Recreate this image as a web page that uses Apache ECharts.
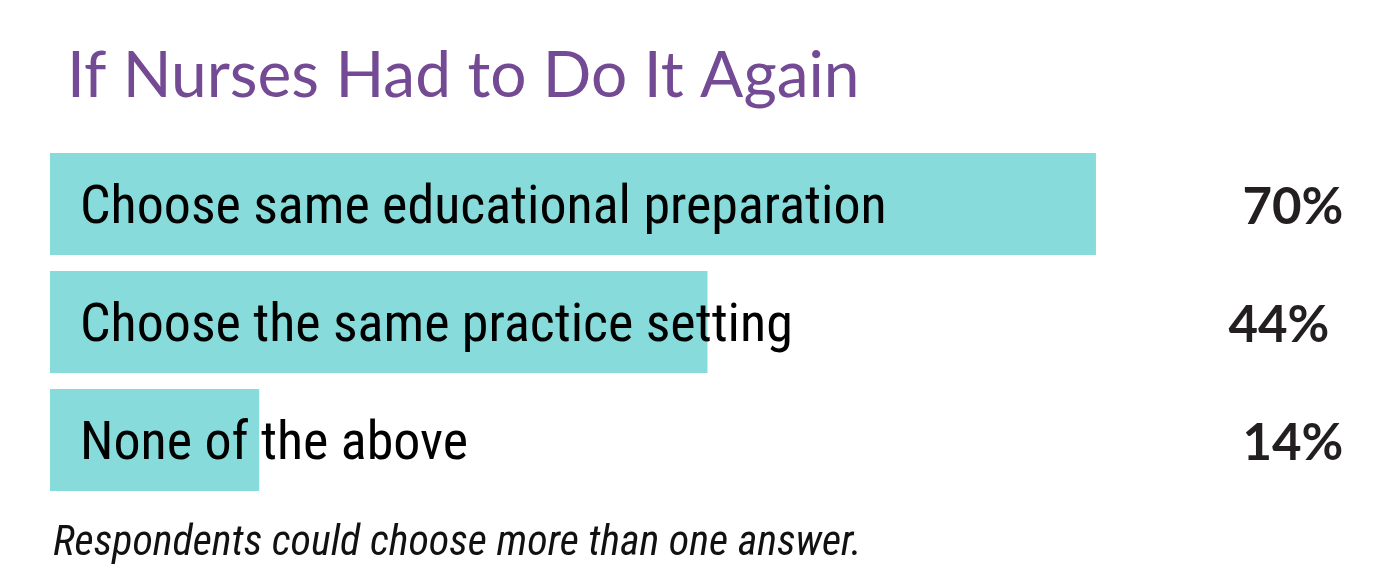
<!DOCTYPE html>
<html><head><meta charset="utf-8">
<script src="https://cdn.jsdelivr.net/npm/echarts@6/dist/echarts.min.js"></script>
<style>html,body{margin:0;padding:0;background:#fff}#c{width:1380px;height:585px}</style>
</head><body><div id="c"></div>
<script>
const categories = ["Choose same educational preparation", "Choose the same practice setting", "None of the above"];
const values = [70, 44, 14];
const valueLabels = ["70%", "44%", "14%"];
const titleText = "If Nurses Had to Do It Again";
const footnote = "Respondents could choose more than one answer.";

const narrow = '"Roboto Condensed", "DejaVu Sans Condensed", sans-serif';
const chart = echarts.init(document.getElementById('c'));
chart.setOption({
  animation: false,
  title: [{
    text: titleText, left: 62, top: 39,
    textStyle: {fontFamily: 'Lato', fontWeight: 'normal', fontSize: 64, color: '#734a93'}
  }, {
    text: footnote, left: 48, top: 518,
    textStyle: {fontFamily: narrow, fontStyle: 'italic', fontWeight: 'normal', fontSize: 42, color: '#111'}
  }],
  grid: {left: 50, right: 134.6, top: 145, bottom: 86},
  xAxis: {type: 'value', min: 0, max: 80, show: false},
  yAxis: [{
    type: 'category', data: categories, inverse: true, show: false
  }, {
    type: 'category', data: valueLabels, inverse: true, position: 'right',
    axisLine: {show: false}, axisTick: {show: false}, splitLine: {show: false},
    axisLabel: {
      align: 'right', margin: 98,
      formatter: (v, i) => i === 1 ? '{b|' + v + '}' : '{a|' + v + '}',
      rich: {
        a: {fontFamily: 'Lato', fontWeight: 'bold', fontSize: 51, color: '#231f20', padding: [8, 0, 0, 0]},
        b: {fontFamily: 'Lato', fontWeight: 'bold', fontSize: 51, color: '#231f20', padding: [8, 14, 0, 0]}
      }
    }
  }],
  series: [{
    type: 'bar', data: values, yAxisIndex: 0, barWidth: 102,
    itemStyle: {color: '#88dbdb'},
    label: {
      show: true, position: 'insideLeft', distance: 30, offset: [0, 5],
      formatter: p => categories[p.dataIndex],
      fontFamily: narrow, fontSize: 54, color: '#000'
    }
  }]
});
</script></body></html>
